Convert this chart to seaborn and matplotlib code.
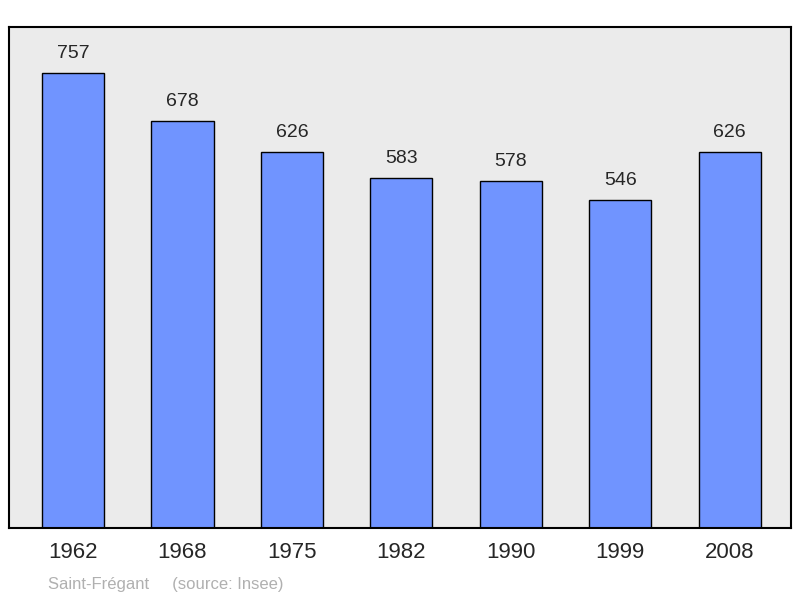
import matplotlib
matplotlib.use("Agg")
import matplotlib.pyplot as plt
import seaborn as sns
import pandas as pd

# Data
years = ["1962", "1968", "1975", "1982", "1990", "1999", "2008"]
population = [757, 678, 626, 583, 578, 546, 626]

df = pd.DataFrame({"year": years, "pop": population})

sns.set_style("white")
plt.rcParams['font.family'] = ['Liberation Sans', 'DejaVu Sans']

fig = plt.figure(figsize=(8, 5.98), dpi=100)
ax = fig.add_axes([9 / 800, 1 - 528 / 598, 782 / 800, 501 / 598])
ax.set_facecolor("#ebebeb")

sns.barplot(data=df, x="year", y="pop", color="#7094ff", saturation=1,
            width=0.567, edgecolor="black", linewidth=1, ax=ax)

for i, v in enumerate(population):
    ax.text(i, v + 18, str(v), ha="center", va="bottom", fontsize=14)

ax.set_xlim(-0.585, 6.56)
ax.set_ylim(0, 834)
ax.set_yticks([])
ax.set_xlabel("")
ax.set_ylabel("")
ax.tick_params(axis="x", labelsize=16, length=0, pad=10)
for s in ax.spines.values():
    s.set_linewidth(1.5)
    s.set_color("black")

fig.text(48 / 800, 1 - 584 / 598, "Saint-Frégant     (source: Insee)",
         fontsize=12, color="#b0b0b0", va="center")

fig.savefig("out.png", dpi=100)
